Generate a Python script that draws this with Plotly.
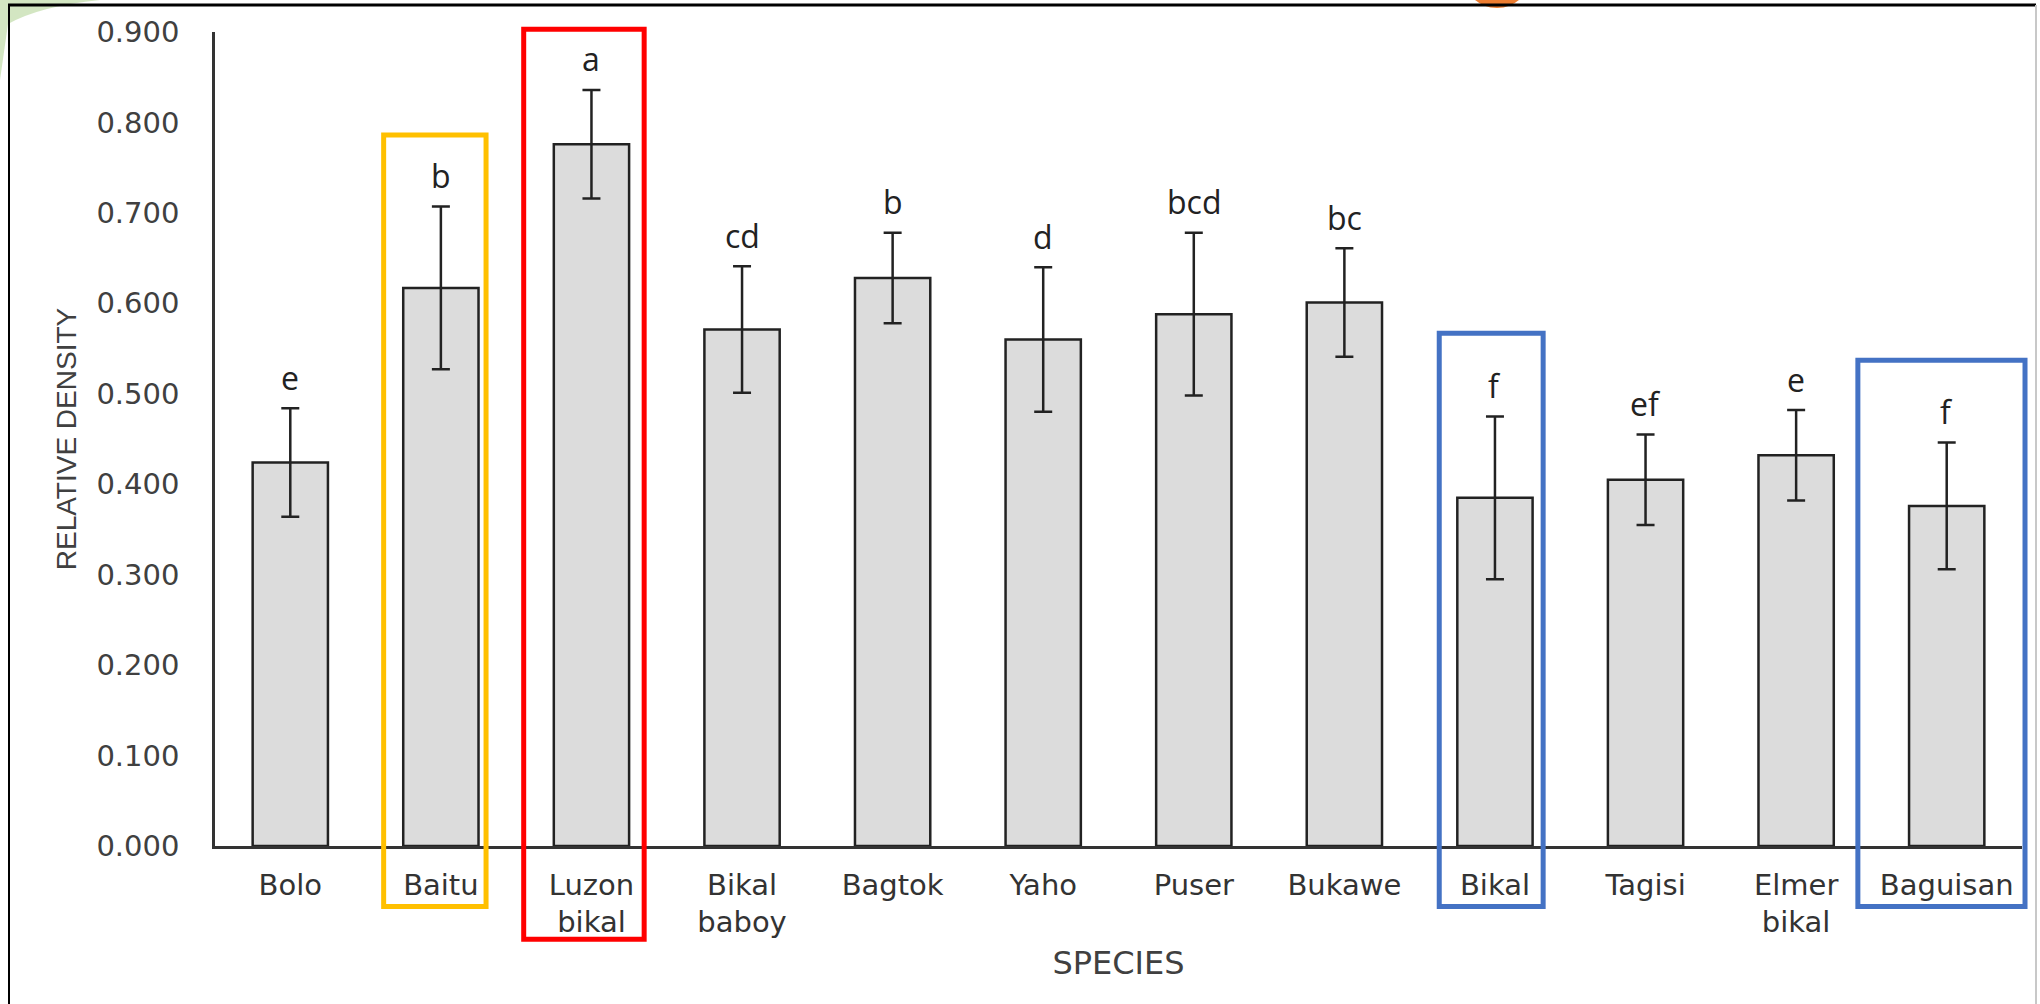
import plotly.graph_objects as go

# Relative density per species, with error half-widths and significance letters
species = ["Bolo", "Baitu", "Luzon<br>bikal", "Bikal<br>baboy", "Bagtok", "Yaho",
           "Puser", "Bukawe", "Bikal", "Tagisi", "Elmer<br>bikal", "Baguisan"]
density = [0.424, 0.617, 0.776, 0.571, 0.628, 0.560, 0.588, 0.601, 0.385, 0.405, 0.432, 0.376]
errors = [0.060, 0.090, 0.060, 0.070, 0.050, 0.080, 0.090, 0.060, 0.090, 0.050, 0.050, 0.070]
letters = ["e", "b", "a", "cd", "b", "d", "bcd", "bc", "f", "ef", "e", "f"]

y_ticks = [0.0, 0.1, 0.2, 0.3, 0.4, 0.5, 0.6, 0.7, 0.8, 0.9]

# Highlight frames: (category index, left offset, right offset, top value, bottom value, colour)
highlights = [
    (1, -0.38, 0.30, 0.786, -0.067, "#FFC000"),
    (2, -0.45, 0.35, 0.903, -0.103, "#FF0000"),
    (8, -0.37, 0.32, 0.567, -0.067, "#4472C4"),
    (11, -0.59, 0.52, 0.537, -0.067, "#4472C4"),
]

W, H = 2040, 1004
L, R, T, B = 215, 18, 32, 158
Y_MAX = 0.9
N = len(species)


def xpaper(idx):
    return (idx + 0.5) / N


def ypaper(val):
    return val / Y_MAX


def px_x(px):
    return (px - L) / (W - L - R)


def px_y(py):
    return (H - B - py) / (H - T - B)


fig = go.Figure()
fig.add_trace(go.Bar(
    x=species, y=density, width=0.5,
    marker=dict(color="#dcdcdc", line=dict(color="#222222", width=2.5)),
    error_y=dict(type="data", array=errors, color="#222222", thickness=2.5, width=9),
    showlegend=False,
))

for s, v, e, lt in zip(species, density, errors, letters):
    fig.add_annotation(x=s, y=v + e, text=lt, showarrow=False, yanchor="middle",
                       yshift=31, font=dict(family="Open Sans, sans-serif", size=32, color="#222222"))

shapes = []
for idx, lo, hi, top, bot, col in highlights:
    shapes.append(dict(type="rect", xref="paper", yref="paper",
                       x0=xpaper(idx + lo), x1=xpaper(idx + hi), y0=ypaper(bot), y1=ypaper(top),
                       line=dict(color=col, width=5), fillcolor="rgba(0,0,0,0)", layer="above"))

# Slide decorations around the chart frame
shapes.append(dict(type="path", xref="paper", yref="paper",
                   path=f"M {px_x(0)} {px_y(0)} L {px_x(100)} {px_y(0)} Q {px_x(40)} {px_y(6)} {px_x(8)} {px_y(24)} L {px_x(0)} {px_y(80)} Z",
                   fillcolor="#b5d69a", line=dict(width=0), layer="below", opacity=0.6))
shapes.append(dict(type="circle", xref="paper", yref="paper",
                   x0=px_x(1463), x1=px_x(1531), y0=px_y(-60), y1=px_y(8),
                   fillcolor="#ED7D31", line=dict(width=0), layer="below"))
shapes.append(dict(type="circle", xref="paper", yref="paper",
                   x0=px_x(1478), x1=px_x(1516), y0=px_y(-40), y1=px_y(-2),
                   fillcolor="white", line=dict(width=0), layer="below"))
shapes.append(dict(type="line", xref="paper", yref="paper",
                   x0=px_x(8), x1=px_x(2036), y0=px_y(5), y1=px_y(5),
                   line=dict(color="black", width=3)))
shapes.append(dict(type="line", xref="paper", yref="paper",
                   x0=px_x(9), x1=px_x(9), y0=px_y(5), y1=px_y(1004),
                   line=dict(color="black", width=2)))
shapes.append(dict(type="line", xref="paper", yref="paper",
                   x0=px_x(2036), x1=px_x(2036), y0=px_y(5), y1=px_y(1004),
                   line=dict(color="#c8c8c8", width=2)))

fig.update_layout(
    width=W, height=H,
    margin=dict(l=L, r=R, t=T, b=B),
    paper_bgcolor="white", plot_bgcolor="white",
    font=dict(family="DejaVu Sans, sans-serif", color="#404040"),
    shapes=shapes,
    bargap=0.5,
    xaxis=dict(
        range=[-0.5, N - 0.5], showline=True, linecolor="#333333", linewidth=2.5,
        ticks="", showgrid=False, zeroline=False,
        tickfont=dict(family="DejaVu Sans, sans-serif", size=29, color="#333333"), ticklabelstandoff=11,
        title=dict(text="SPECIES", font=dict(family="DejaVu Sans, sans-serif", size=32, color="#404040"), standoff=14),
    ),
    yaxis=dict(
        range=[0, Y_MAX], tickvals=y_ticks, tickformat=".3f",
        showline=True, linecolor="#333333", linewidth=2.5, ticks="",
        showgrid=False, zeroline=False,
        tickfont=dict(family="DejaVu Sans, sans-serif", size=29, color="#404040"), ticklabelstandoff=27,
        title=dict(text="RELATIVE DENSITY", font=dict(family="Liberation Sans, Arial, sans-serif", size=28, color="#404040"), standoff=12),
    ),
)

fig.write_html("out.html")
